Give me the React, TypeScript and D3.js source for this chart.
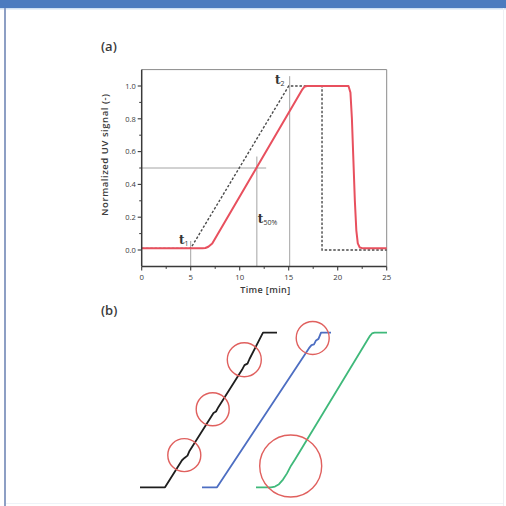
import React from "react";
import * as d3 from "d3";

// ---------- Panel (a) data ----------
const xTicks = [0, 5, 10, 15, 20, 25];
const xMinorTicks = [2.5, 7.5, 12.5, 17.5, 22.5];
const yTicks = [0, 0.2, 0.4, 0.6, 0.8, 1.0];
const yMinorTicks = [0.1, 0.3, 0.5, 0.7, 0.9];

// measured (red) curve
const redTime = [0, 6.2, 6.5, 6.8, 7.2, 16.4, 16.6, 16.85, 21.1, 21.3, 21.45, 21.6, 21.75, 21.9, 22.05, 22.25, 22.6, 25];
const redSignal = [0.01, 0.01, 0.012, 0.02, 0.04, 0.98, 0.995, 1.0, 1.0, 0.96, 0.8, 0.55, 0.3, 0.12, 0.04, 0.015, 0.01, 0.01];

// ideal (dashed) curve
const idealTime = [0, 5, 15, 18.4, 18.4, 25];
const idealSignal = [0.01, 0.01, 1.0, 1.0, 0.0, 0.0];

// guide lines: [x1, y1, x2, y2]
const guideLines = [
  [0, 0.5, 12.7, 0.5],
  [11.75, -0.1, 11.75, 0.57],
  [5, -0.1, 5, 0.055],
  [15.1, -0.1, 15.1, 1.06],
];

const annotations = [
  { x: 3.8, y: 0.035, main: "t", sub: "1" },
  { x: 13.6, y: 1.012, main: "t", sub: "2" },
  { x: 11.85, y: 0.165, main: "t", sub: "50%" },
];

// ---------- Panel (b) data ----------
const blackX = [0, 2.5, 4.2, 4.45, 4.75, 4.95, 7.1, 7.35, 7.6, 7.85, 10.2, 10.45, 10.75, 10.95, 12.3, 13.7];
const blackY = [0, 0, 0.175, 0.19, 0.205, 0.235, 0.455, 0.48, 0.49, 0.52, 0.76, 0.79, 0.8, 0.83, 1, 1];

const blueX = [6.2, 7.7, 16.9, 17.15, 17.4, 17.6, 17.85, 18.1, 19.1];
const blueY = [0, 0, 0.9, 0.92, 0.925, 0.95, 0.96, 1, 1];

const greenX = [11.6, 13.1, 13.5, 13.9, 14.3, 14.7, 15.1, 15.5, 23.0, 23.2, 23.45, 24.7];
const greenY = [0, 0, 0.005, 0.02, 0.05, 0.09, 0.14, 0.18, 0.98, 0.995, 1, 1];

const circleX = [4.43, 7.27, 10.43, 17.27, 15.07];
const circleY = [0.208, 0.505, 0.825, 0.966, 0.138];
const circleR = [1.65, 1.65, 1.7, 1.65, 3.1];

export default function App() {
  // panel (a) scales
  const x = d3.scaleLinear().domain([0, 25]).range([141.7, 386.7]);
  const y = d3.scaleLinear().domain([-0.1, 1.1]).range([266.4, 69.6]);

  const lineA = d3
    .line<[number, number]>()
    .x((d) => x(d[0]))
    .y((d) => y(d[1]));

  const redPts = redTime.map((t, i) => [t, redSignal[i]] as [number, number]);
  const idealPts = idealTime.map((t, i) => [t, idealSignal[i]] as [number, number]);
  const redPath = lineA(redPts) || "";
  const idealPath = lineA(idealPts) || "";

  // panel (b) scales
  const bx = d3.scaleLinear().domain([0, 25]).range([140, 390]);
  const by = d3.scaleLinear().domain([0, 1]).range([487.3, 332.7]);
  const lineB = d3
    .line<[number, number]>()
    .x((d) => bx(d[0]))
    .y((d) => by(d[1]));
  const mk = (xs: number[], ys: number[]) => xs.map((v, i) => [v, ys[i]] as [number, number]);
  const blackPath = lineB(mk(blackX, blackY)) || "";
  const bluePath = lineB(mk(blueX, blueY)) || "";
  const greenPath = lineB(mk(greenX, greenY)) || "";

  const axisColor = "#3a3a3a";
  const textColor = "#3a3a3a";
  const sans = "'Open Sans', 'DejaVu Sans', sans-serif";
  const serif = "'DejaVu Serif', 'Liberation Serif', serif";

  return (
    <svg
      width={506}
      height={506}
      style={{ position: "absolute", left: 0, top: 0, background: "#ffffff" }}
    >
      {/* page frame */}
      <rect x={0} y={0} width={506} height={506} fill="#ffffff" />
      <rect x={0} y={0} width={506} height={8} fill="#4c7bbf" />
      <rect x={0} y={8} width={506} height={1.5} fill="#cfe0f3" />
      <rect x={4} y={8} width={2} height={498} fill="#8d9fc4" />
      <rect x={503} y={8} width={1} height={498} fill="#eef0f4" />
      <rect x={6} y={503} width={497} height={1} fill="#eef3f8" />

      {/* panel labels */}
      <text x={101} y={51} fontFamily={sans} fontSize={13} fontWeight={600} fill={textColor}>
        (a)
      </text>
      <text x={101} y={315} fontFamily={sans} fontSize={13} fontWeight={600} fill={textColor}>
        (b)
      </text>

      {/* plot frame top/right */}
      <line x1={x(0)} x2={x(25)} y1={y(1.1)} y2={y(1.1)} stroke="#8a8a8a" strokeWidth={1} />
      <line x1={x(25)} x2={x(25)} y1={y(1.1)} y2={y(-0.1)} stroke="#8a8a8a" strokeWidth={1} />

      {/* guide lines */}
      {guideLines.map((g, i) => (
        <line
          key={"g" + i}
          x1={x(g[0])}
          y1={y(g[1])}
          x2={x(g[2])}
          y2={y(g[3])}
          stroke="#9a9a9a"
          strokeWidth={0.9}
        />
      ))}

      {/* curves */}
      <path d={idealPath} fill="none" stroke="#4a4a4a" strokeWidth={1.4} strokeDasharray="2.5,1.8" />
      <path d={redPath} fill="none" stroke="#e8505e" strokeWidth={2} strokeLinejoin="round" />

      {/* axes */}
      <line x1={x(0)} x2={x(25)} y1={y(-0.1)} y2={y(-0.1)} stroke={axisColor} strokeWidth={1.5} />
      <line x1={x(0)} x2={x(0)} y1={y(-0.1)} y2={y(1.1)} stroke={axisColor} strokeWidth={1.5} />

      {xTicks.map((t) => (
        <g key={"xt" + t}>
          <line x1={x(t)} x2={x(t)} y1={y(-0.1)} y2={y(-0.1) + 4} stroke={axisColor} strokeWidth={1.1} />
          <text
            x={x(t)}
            y={y(-0.1) + 13.5}
            textAnchor="middle"
            fontFamily={sans}
            fontSize={7.8}
            fill={textColor}
          >
            {t}
          </text>
        </g>
      ))}
      {xMinorTicks.map((t) => (
        <line key={"xm" + t} x1={x(t)} x2={x(t)} y1={y(-0.1)} y2={y(-0.1) + 2.5} stroke={axisColor} strokeWidth={1} />
      ))}
      {yTicks.map((t) => (
        <g key={"yt" + t}>
          <line x1={x(0) - 4} x2={x(0)} y1={y(t)} y2={y(t)} stroke={axisColor} strokeWidth={1.1} />
          <text
            x={x(0) - 6}
            y={y(t) + 2.7}
            textAnchor="end"
            fontFamily={sans}
            fontSize={7.5}
            fill={textColor}
          >
            {d3.format(".1f")(t)}
          </text>
        </g>
      ))}
      {yMinorTicks.map((t) => (
        <line key={"ym" + t} x1={x(0) - 2.5} x2={x(0)} y1={y(t)} y2={y(t)} stroke={axisColor} strokeWidth={1} />
      ))}

      {/* axis titles */}
      <text
        x={x(12.6)}
        y={y(-0.1) + 27}
        textAnchor="middle"
        fontFamily={sans}
        fontSize={9}
        fontWeight={600}
        fill={textColor}
        textLength={50}
      >
        Time [min]
      </text>
      <text
        transform={`translate(108, ${y(0.58)}) rotate(-90)`}
        textAnchor="middle"
        fontFamily={sans}
        fontSize={9.5}
        fontWeight={600}
        fill={textColor}
        textLength={122}
      >
        Normalized UV signal (-)
      </text>

      {/* annotations */}
      {annotations.map((a, i) => (
        <text key={"a" + i} x={x(a.x)} y={y(a.y)} fontFamily={serif} fontSize={12} fontWeight={700} fill="#333">
          {a.main}
          <tspan fontFamily={sans} fontSize={7} fontWeight={400} dy={2}>
            {a.sub}
          </tspan>
        </text>
      ))}

      {/* panel (b) */}
      <path d={blackPath} fill="none" stroke="#1e1e1e" strokeWidth={1.8} strokeLinejoin="round" />
      <path d={bluePath} fill="none" stroke="#4d6ec2" strokeWidth={1.8} strokeLinejoin="round" />
      <path d={greenPath} fill="none" stroke="#3fb97a" strokeWidth={1.8} strokeLinejoin="round" />
      {circleX.map((cx, i) => (
        <circle
          key={"c" + i}
          cx={bx(cx)}
          cy={by(circleY[i])}
          r={bx(circleR[i]) - bx(0)}
          fill="none"
          stroke="#e0605e"
          strokeWidth={1.4}
        />
      ))}
    </svg>
  );
}
